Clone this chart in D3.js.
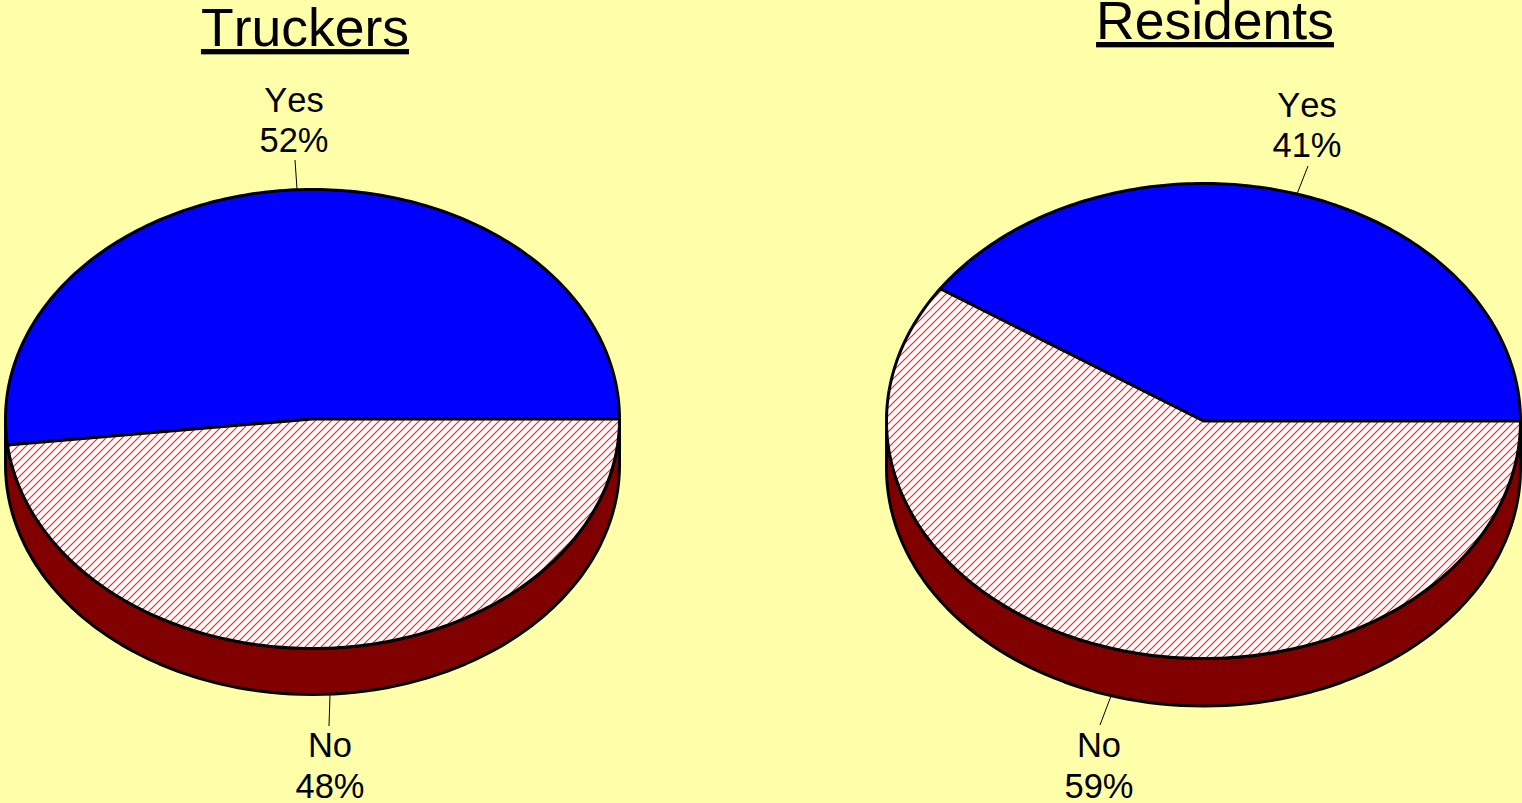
<!DOCTYPE html>
<html><head><meta charset="utf-8">
<script src="https://cdn.jsdelivr.net/npm/d3@7/dist/d3.min.js"></script>
<style>html,body{margin:0;padding:0;background:#ffffaa;overflow:hidden}svg{display:block}text{font-family:"Liberation Sans",Arial,sans-serif;fill:#000;font-kerning:none}</style>
</head><body><svg id="c" width="1522" height="803"></svg>
<script>
const categories = ["Yes", "No"];
const truckers = [51.8, 48.2];
const residents = [40.6, 59.4];
const titles = ["Truckers", "Residents"];

const charts = [
  {title:titles[0], values:truckers, cx:312.5, cy:419, rx:307, ry:229.5, depth:46, titleX:305, titleY:46,
   labels:[{x:294,y:112,gap:40,lx:[297,295],ly:[189,160]},{x:330,y:757,gap:41,lx:[330,329],ly:[695,726]}]},
  {title:titles[1], values:residents, cx:1203.5, cy:421, rx:317, ry:237.5, depth:47.5, titleX:1215, titleY:39,
   labels:[{x:1307,y:117,gap:40,lx:[1297,1308],ly:[194,166]},{x:1099,y:757,gap:41,lx:[1111,1100],ly:[696,725]}]}
];
const svg = d3.select("#c");
const defs = svg.append("defs");
const pat = defs.append("pattern").attr("id","hatch").attr("patternUnits","userSpaceOnUse")
  .attr("width",8).attr("height",8);
pat.append("rect").attr("width",8).attr("height",8).attr("fill","#fff");
pat.append("path").attr("d","M-2,10L10,-2M-2,2L2,-2M6,10L10,6").attr("stroke","#ff2020").attr("stroke-width",1.2);

const pie = d3.pie().sort(null).startAngle(Math.PI/2).endAngle(Math.PI/2-2*Math.PI);
const fills = ["#0000ff","url(#hatch)"];
const strokeW = 3;

charts.forEach(c=>{
  const g = svg.append("g");
  const sx = a=>c.cx+c.rx*Math.sin(a), sy = a=>c.cy-c.ry*Math.cos(a);
  // side wall: lower half of the ellipse and the same half shifted down by the depth
  const pts = d3.range(0,181,2).map(a=>a*Math.PI/180+Math.PI/2).map(a=>[sx(a),sy(a)]);
  const low = pts.map(p=>[p[0],p[1]+c.depth]).reverse();
  g.append("path").attr("d",d3.line()(pts.concat(low))+"Z")
    .attr("fill","#800000").attr("stroke","#000").attr("stroke-width",strokeW).attr("stroke-linejoin","round");
  // top face slices
  g.selectAll("path.slice").data(pie(c.values)).join("path").attr("class","slice")
    .attr("d",d=>{
      const n = Math.ceil(Math.abs(d.endAngle-d.startAngle)*60);
      const arcPts = d3.range(n+1).map(t=>{
        const a = d.startAngle+(d.endAngle-d.startAngle)*t/n;
        return [sx(a),sy(a)];
      });
      return d3.line()([[c.cx,c.cy],...arcPts])+"Z";
    })
    .attr("fill",(d,i)=>fills[i])
    .attr("stroke","#000").attr("stroke-width",strokeW).attr("stroke-linejoin","round");
  // title
  g.append("text").attr("x",c.titleX).attr("y",c.titleY).attr("text-anchor","middle")
    .attr("font-size",53.5).attr("text-decoration","underline").text(c.title);
  // labels
  c.labels.forEach((l,i)=>{
    g.append("line").attr("x1",l.lx[0]).attr("x2",l.lx[1]).attr("y1",l.ly[0]).attr("y2",l.ly[1])
      .attr("stroke","#000").attr("stroke-width",1);
    g.append("text").attr("x",l.x).attr("y",l.y).attr("text-anchor","middle").attr("font-size",34.5).text(categories[i]);
    g.append("text").attr("x",l.x).attr("y",l.y+l.gap).attr("text-anchor","middle").attr("font-size",34.5).text(Math.round(c.values[i])+"%");
  });
});
</script></body></html>
